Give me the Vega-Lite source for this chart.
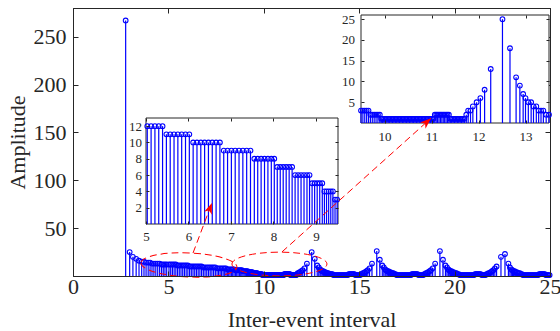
{
"$schema":"https://vega.github.io/schema/vega-lite/v6.json",
"width":477,"height":268,
"autosize":"none",
"padding":{"left":73,"top":8,"right":10,"bottom":55},
"background":"white",
"config":{
 "font":"Liberation Serif",
 "view":{"stroke":"#262626","strokeWidth":1},
 "axis":{"grid":false,"labelFlush":false,"labelOverlap":false,"labelFont":"Liberation Serif","titleFont":"Liberation Serif","titleFontWeight":"normal","domainColor":"#262626","tickColor":"#262626","labelColor":"#262626","titleColor":"#262626","tickWidth":1,"domainWidth":1}
},
"datasets":{"d":[
{"x":2.76,"y":267},{"x":2.97,"y":25},{"x":3.14,"y":20},{"x":3.31,"y":18},{"x":3.46,"y":16},{"x":3.6,"y":15},{"x":3.72,"y":15},{"x":3.83,"y":14},{"x":3.94,"y":14},{"x":4.04,"y":14},{"x":4.14,"y":13},{"x":4.24,"y":13},{"x":4.34,"y":13},{"x":4.44,"y":13},{"x":4.54,"y":13},{"x":4.64,"y":12},{"x":4.73,"y":12},{"x":4.82,"y":12},{"x":4.91,"y":12},
{"x":5.03,"y":12},{"x":5.12,"y":12},{"x":5.21,"y":12},{"x":5.3,"y":12},{"x":5.39,"y":12},
{"x":5.48,"y":11},{"x":5.57,"y":11},{"x":5.66,"y":11},{"x":5.75,"y":11},{"x":5.84,"y":11},{"x":5.93,"y":11},{"x":6.02,"y":11},
{"x":6.11,"y":10},{"x":6.2,"y":10},{"x":6.29,"y":10},{"x":6.38,"y":10},{"x":6.47,"y":10},{"x":6.56,"y":10},{"x":6.65,"y":10},{"x":6.74,"y":10},
{"x":6.83,"y":9},{"x":6.92,"y":9},{"x":7.01,"y":9},{"x":7.1,"y":9},{"x":7.19,"y":9},{"x":7.28,"y":9},{"x":7.37,"y":9},{"x":7.46,"y":9},
{"x":7.55,"y":8},{"x":7.63,"y":8},{"x":7.71,"y":8},{"x":7.79,"y":8},{"x":7.87,"y":8},{"x":7.95,"y":8},{"x":8.02,"y":8},
{"x":8.09,"y":7},{"x":8.16,"y":7},{"x":8.23,"y":7},{"x":8.3,"y":7},{"x":8.37,"y":7},{"x":8.44,"y":7},
{"x":8.51,"y":6},{"x":8.58,"y":6},{"x":8.65,"y":6},{"x":8.72,"y":6},{"x":8.79,"y":6},{"x":8.85,"y":6},
{"x":8.91,"y":5},{"x":8.97,"y":5},{"x":9.03,"y":5},{"x":9.09,"y":5},{"x":9.15,"y":5},
{"x":9.2,"y":4},{"x":9.25,"y":4},{"x":9.3,"y":4},{"x":9.35,"y":4},{"x":9.4,"y":4},
{"x":9.45,"y":3},{"x":9.5,"y":3},
{"x":9.54,"y":3},{"x":9.58,"y":3},{"x":9.62,"y":3},{"x":9.66,"y":3},
{"x":9.7,"y":2},{"x":9.74,"y":2},{"x":9.78,"y":2},{"x":9.82,"y":2},{"x":9.86,"y":2},{"x":9.9,"y":2},
{"x":9.93,"y":1},{"x":9.96,"y":1},{"x":9.99,"y":1},{"x":10.02,"y":1},{"x":10.05,"y":1},{"x":10.08,"y":1},{"x":10.11,"y":1},{"x":10.14,"y":1},{"x":10.17,"y":1},{"x":10.2,"y":1},{"x":10.23,"y":1},{"x":10.26,"y":1},{"x":10.29,"y":1},{"x":10.32,"y":1},{"x":10.35,"y":1},{"x":10.38,"y":1},{"x":10.41,"y":1},{"x":10.44,"y":1},{"x":10.47,"y":1},{"x":10.5,"y":1},{"x":10.53,"y":1},{"x":10.56,"y":1},{"x":10.59,"y":1},{"x":10.62,"y":1},{"x":10.65,"y":1},{"x":10.68,"y":1},{"x":10.71,"y":1},{"x":10.74,"y":1},{"x":10.77,"y":1},{"x":10.8,"y":1},{"x":10.83,"y":1},{"x":10.86,"y":1},{"x":10.89,"y":1},{"x":10.92,"y":1},{"x":10.95,"y":1},{"x":10.98,"y":1},{"x":11.01,"y":1},{"x":11.04,"y":1},
{"x":11.07,"y":2},{"x":11.1,"y":2},{"x":11.13,"y":2},{"x":11.16,"y":2},{"x":11.19,"y":2},{"x":11.22,"y":2},{"x":11.25,"y":2},{"x":11.28,"y":2},{"x":11.31,"y":2},{"x":11.34,"y":2},{"x":11.37,"y":2},
{"x":11.4,"y":1},{"x":11.43,"y":1},{"x":11.46,"y":1},{"x":11.49,"y":1},{"x":11.52,"y":1},{"x":11.55,"y":1},{"x":11.58,"y":1},{"x":11.61,"y":1},{"x":11.64,"y":1},{"x":11.67,"y":1},{"x":11.7,"y":1},
{"x":11.74,"y":2},{"x":11.78,"y":3},{"x":11.83,"y":3},{"x":11.88,"y":4},{"x":11.96,"y":5},{"x":12.04,"y":6},{"x":12.13,"y":8},{"x":12.26,"y":13},{"x":12.51,"y":25},{"x":12.67,"y":18},{"x":12.8,"y":11},{"x":12.88,"y":9},{"x":12.95,"y":7},{"x":13.0,"y":6},{"x":13.06,"y":5},{"x":13.12,"y":5},{"x":13.17,"y":4},{"x":13.23,"y":4},{"x":13.28,"y":3},{"x":13.33,"y":3},{"x":13.38,"y":3},{"x":13.44,"y":2},{"x":13.5,"y":2},
{"x":13.55,"y":2},{"x":13.6,"y":2},{"x":13.65,"y":1},{"x":13.7,"y":1},{"x":13.75,"y":1},{"x":13.8,"y":1},{"x":13.85,"y":1},{"x":13.9,"y":1},{"x":13.95,"y":1},{"x":14.0,"y":1},{"x":14.05,"y":1},{"x":14.1,"y":1},{"x":14.15,"y":1},{"x":14.2,"y":1},{"x":14.25,"y":1},{"x":14.3,"y":1},{"x":14.35,"y":1},{"x":14.4,"y":1},
{"x":14.45,"y":2},{"x":14.5,"y":2},{"x":14.55,"y":2},{"x":14.6,"y":2},{"x":14.65,"y":2},{"x":14.7,"y":2},{"x":14.75,"y":2},
{"x":14.8,"y":1},{"x":14.85,"y":1},{"x":14.9,"y":1},{"x":14.95,"y":1},{"x":15.0,"y":1},{"x":15.05,"y":1},
{"x":15.1,"y":2},{"x":15.15,"y":2},{"x":15.19,"y":3},{"x":15.25,"y":3},{"x":15.3,"y":4},{"x":15.38,"y":5},{"x":15.45,"y":6},{"x":15.54,"y":8},{"x":15.67,"y":13},{"x":15.92,"y":26},{"x":16.08,"y":17},{"x":16.21,"y":11},{"x":16.29,"y":9},{"x":16.36,"y":7},{"x":16.41,"y":6},{"x":16.47,"y":5},{"x":16.53,"y":5},{"x":16.58,"y":4},{"x":16.64,"y":4},{"x":16.69,"y":3},{"x":16.74,"y":3},{"x":16.79,"y":3},{"x":16.85,"y":2},{"x":16.91,"y":2},
{"x":16.96,"y":1},{"x":17.01,"y":1},{"x":17.06,"y":1},{"x":17.11,"y":1},{"x":17.16,"y":1},{"x":17.21,"y":1},{"x":17.26,"y":1},{"x":17.31,"y":1},{"x":17.36,"y":1},{"x":17.41,"y":1},{"x":17.46,"y":1},{"x":17.51,"y":1},{"x":17.56,"y":1},{"x":17.61,"y":1},{"x":17.66,"y":1},{"x":17.71,"y":1},
{"x":17.76,"y":2},{"x":17.81,"y":2},{"x":17.86,"y":2},{"x":17.91,"y":2},{"x":17.96,"y":2},{"x":18.01,"y":2},{"x":18.06,"y":2},
{"x":18.11,"y":1},{"x":18.16,"y":1},{"x":18.21,"y":1},{"x":18.26,"y":1},{"x":18.31,"y":1},{"x":18.36,"y":1},
{"x":18.41,"y":2},{"x":18.46,"y":2},{"x":18.5,"y":3},{"x":18.56,"y":3},{"x":18.61,"y":4},{"x":18.69,"y":5},{"x":18.76,"y":6},{"x":18.85,"y":8},{"x":18.98,"y":13},{"x":19.23,"y":26},{"x":19.39,"y":17},{"x":19.52,"y":11},{"x":19.6,"y":9},{"x":19.67,"y":7},{"x":19.72,"y":6},{"x":19.78,"y":5},{"x":19.84,"y":5},{"x":19.89,"y":4},{"x":19.95,"y":4},{"x":20.0,"y":3},{"x":20.05,"y":3},{"x":20.1,"y":3},{"x":20.16,"y":2},{"x":20.22,"y":2},
{"x":20.27,"y":1},{"x":20.32,"y":1},{"x":20.37,"y":1},{"x":20.42,"y":1},{"x":20.47,"y":1},{"x":20.52,"y":1},{"x":20.57,"y":1},{"x":20.62,"y":1},{"x":20.67,"y":1},{"x":20.72,"y":1},{"x":20.77,"y":1},{"x":20.82,"y":1},{"x":20.87,"y":1},{"x":20.92,"y":1},{"x":20.97,"y":1},{"x":21.02,"y":1},
{"x":21.07,"y":2},{"x":21.12,"y":2},{"x":21.17,"y":2},{"x":21.22,"y":2},{"x":21.27,"y":2},{"x":21.32,"y":2},{"x":21.37,"y":2},
{"x":21.42,"y":1},{"x":21.47,"y":1},{"x":21.52,"y":1},{"x":21.57,"y":1},{"x":21.62,"y":1},
{"x":21.67,"y":2},{"x":21.72,"y":2},{"x":21.77,"y":3},{"x":21.83,"y":3},{"x":21.89,"y":4},{"x":21.96,"y":5},{"x":22.03,"y":6},{"x":22.11,"y":8},{"x":22.2,"y":10},{"x":22.43,"y":20},{"x":22.64,"y":23},{"x":22.82,"y":13},{"x":22.9,"y":9},{"x":22.97,"y":7},{"x":23.03,"y":6},{"x":23.09,"y":5},{"x":23.15,"y":5},{"x":23.2,"y":4},{"x":23.26,"y":4},{"x":23.31,"y":3},{"x":23.36,"y":3},{"x":23.42,"y":3},{"x":23.47,"y":2},{"x":23.53,"y":2},
{"x":23.58,"y":1},{"x":23.63,"y":1},{"x":23.68,"y":1},{"x":23.73,"y":1},{"x":23.78,"y":1},{"x":23.83,"y":1},{"x":23.88,"y":1},{"x":23.93,"y":1},{"x":23.98,"y":1},{"x":24.03,"y":1},{"x":24.08,"y":1},{"x":24.13,"y":1},{"x":24.18,"y":1},{"x":24.23,"y":1},{"x":24.28,"y":1},{"x":24.33,"y":1},{"x":24.38,"y":1},
{"x":24.43,"y":2},{"x":24.48,"y":2},{"x":24.53,"y":2},{"x":24.58,"y":2},{"x":24.63,"y":2},{"x":24.68,"y":2},{"x":24.73,"y":2},
{"x":24.78,"y":1},{"x":24.83,"y":1},{"x":24.88,"y":1},{"x":24.93,"y":1},{"x":24.98,"y":1}
]},
"data":{"name":"d"},
"resolve":{"scale":{"x":"independent","y":"independent"}},
"layer":[
 {"layer":[
   {"mark":{"type":"rule","color":"#0000ff","strokeWidth":1.2},
    "encoding":{
      "x":{"field":"x","type":"quantitative","scale":{"domain":[0,25],"nice":false},"axis":{"orient":"bottom","values":[0,5,10,15,20,25],"title":"Inter-event interval","tickSize":-5,"labelPadding":5,"labelFontSize":22,"titleFontSize":22,"titleY":50.5,"titleBaseline":"alphabetic","zindex":1}},
      "y":{"field":"y","type":"quantitative","scale":{"domain":[0,280],"nice":false},"axis":{"orient":"left","values":[50,100,150,200,250],"title":"Amplitude","tickSize":-5,"labelPadding":12,"labelFontSize":22,"titleFontSize":22,"titleX":-49,"titleY":134,"titleBaseline":"alphabetic","zindex":0}},
      "y2":{"datum":0}}},
   {"mark":{"type":"point","shape":"circle","size":22,"filled":false,"color":"#0000ff","strokeWidth":1.1,"opacity":1},
    "encoding":{
      "x":{"field":"x","type":"quantitative","scale":{"domain":[0,25],"nice":false},"axis":{"orient":"top","values":[0,5,10,15,20,25],"labels":false,"title":null,"tickSize":-5,"zindex":1}},
      "y":{"field":"y","type":"quantitative","scale":{"domain":[0,280],"nice":false},"axis":{"orient":"right","values":[50,100,150,200,250],"labels":false,"title":null,"tickSize":-5,"zindex":0}}}}
 ]},
 {"layer":[
   {"data":{"values":[{}]},
    "mark":{"type":"rect","fill":"white","stroke":"#262626","strokeWidth":1},
    "encoding":{
      "x":{"datum":5,"type":"quantitative","scale":{"domain":[5,9.52],"range":[73,265],"nice":false},"axis":null},
      "x2":{"datum":9.52},
      "y":{"datum":0,"type":"quantitative","scale":{"domain":[0,13],"range":[216,110],"nice":false},"axis":null},
      "y2":{"datum":13}}},
   {"transform":[{"filter":"datum.x >= 5 && datum.x <= 9.52"}],
    "mark":{"type":"rule","color":"#0000ff","strokeWidth":1.2},
    "encoding":{
      "x":{"field":"x","type":"quantitative","scale":{"domain":[5,9.52],"range":[73,265],"nice":false},"axis":{"orient":"bottom","offset":-52,"values":[5,6,7,8,9],"title":null,"domain":false,"tickSize":-3,"labelPadding":9.5,"labelFontSize":13,"zindex":2}},
      "y":{"field":"y","type":"quantitative","scale":{"domain":[0,13],"range":[216,110],"nice":false},"axis":{"orient":"left","offset":-73,"values":[2,4,6,8,10,12],"title":null,"domain":false,"tickSize":-3,"labelPadding":7.5,"labelFontSize":13,"zindex":2}},
      "y2":{"datum":0}}},
   {"transform":[{"filter":"datum.x >= 5 && datum.x <= 9.52"}],
    "mark":{"type":"point","shape":"circle","size":22,"filled":false,"color":"#0000ff","strokeWidth":1.1,"opacity":1},
    "encoding":{
      "x":{"field":"x","type":"quantitative","scale":{"domain":[5,9.52],"range":[73,265],"nice":false},"axis":{"orient":"top","offset":-110,"values":[5,6,7,8,9],"labels":false,"title":null,"domain":false,"tickSize":-3,"zindex":2}},
      "y":{"field":"y","type":"quantitative","scale":{"domain":[0,13],"range":[216,110],"nice":false},"axis":{"orient":"right","offset":-212,"values":[2,4,6,8,10,12],"labels":false,"title":null,"domain":false,"tickSize":-3,"zindex":2}}}}
 ]},
 {"layer":[
   {"data":{"values":[{}]},
    "mark":{"type":"rect","fill":"white","stroke":"#262626","strokeWidth":1},
    "encoding":{
      "x":{"datum":9.5,"type":"quantitative","scale":{"domain":[9.5,13.5],"range":[288,476],"nice":false},"axis":null},
      "x2":{"datum":13.5},
      "y":{"datum":0,"type":"quantitative","scale":{"domain":[0,26],"range":[115,7],"nice":false},"axis":null},
      "y2":{"datum":26}}},
   {"transform":[{"filter":"datum.x >= 9.5 && datum.x <= 13.5"}],
    "mark":{"type":"rule","color":"#0000ff","strokeWidth":1.2},
    "encoding":{
      "x":{"field":"x","type":"quantitative","scale":{"domain":[9.5,13.5],"range":[288,476],"nice":false},"axis":{"orient":"bottom","offset":-153,"values":[10,11,12,13],"title":null,"domain":false,"tickSize":-3,"labelPadding":10,"labelFontSize":13,"zindex":2}},
      "y":{"field":"y","type":"quantitative","scale":{"domain":[0,26],"range":[115,7],"nice":false},"axis":{"orient":"left","offset":-288,"values":[5,10,15,20,25],"title":null,"domain":false,"tickSize":-3,"labelPadding":9.5,"labelFontSize":13,"zindex":2}},
      "y2":{"datum":0}}},
   {"transform":[{"filter":"datum.x >= 9.5 && datum.x <= 13.5"}],
    "mark":{"type":"point","shape":"circle","size":22,"filled":false,"color":"#0000ff","strokeWidth":1.1,"opacity":1},
    "encoding":{
      "x":{"field":"x","type":"quantitative","scale":{"domain":[9.5,13.5],"range":[288,476],"nice":false},"axis":{"orient":"top","offset":-7,"values":[10,11,12,13],"labels":false,"title":null,"domain":false,"tickSize":-3,"zindex":2}},
      "y":{"field":"y","type":"quantitative","scale":{"domain":[0,26],"range":[115,7],"nice":false},"axis":{"orient":"right","offset":-1,"values":[5,10,15,20,25],"labels":false,"title":null,"domain":false,"tickSize":-3,"zindex":2}}}}
 ]},
 {"data":{"values":[{}]},
  "layer":[
   {"mark":{"type":"point","shape":"M -1 0 A 1 0.25 0 1 0 1 0 A 1 0.25 0 1 0 -1 0 Z","size":9216,"filled":false,"color":"#ff0000","strokeWidth":1,"strokeDash":[7,4],"angle":2.5,"opacity":1},
    "encoding":{"x":{"datum":6.08,"type":"quantitative","scale":{"domain":[0,25],"nice":false},"axis":null},"y":{"datum":11.5,"type":"quantitative","scale":{"domain":[0,280],"nice":false},"axis":null}}},
   {"mark":{"type":"point","shape":"M -1 0 A 1 0.25 0 1 0 1 0 A 1 0.25 0 1 0 -1 0 Z","size":9025,"filled":false,"color":"#ff0000","strokeWidth":1,"strokeDash":[7,4],"angle":0,"opacity":1},
    "encoding":{"x":{"datum":10.82,"type":"quantitative","scale":{"domain":[0,25],"nice":false},"axis":null},"y":{"datum":12.5,"type":"quantitative","scale":{"domain":[0,280],"nice":false},"axis":null}}},
   {"mark":{"type":"rule","color":"#ff0000","strokeWidth":1,"strokeDash":[7,4]},
    "encoding":{"x":{"datum":6.29,"type":"quantitative","scale":{"domain":[0,25],"nice":false},"axis":null},"y":{"datum":24,"type":"quantitative","scale":{"domain":[0,280],"nice":false},"axis":null},"x2":{"datum":7.28},"y2":{"datum":76.3}}},
   {"mark":{"type":"rule","color":"#ff0000","strokeWidth":1,"strokeDash":[7,4]},
    "encoding":{"x":{"datum":10.95,"type":"quantitative","scale":{"domain":[0,25],"nice":false},"axis":null},"y":{"datum":25.1,"type":"quantitative","scale":{"domain":[0,280],"nice":false},"axis":null},"x2":{"datum":18.76},"y2":{"datum":164.8}}},
   {"mark":{"type":"point","shape":"M 0 0 L 0.6 1.6 L 0 1.15 L -0.6 1.6 Z","size":189,"filled":true,"color":"#ff0000","strokeWidth":0,"angle":21,"opacity":1},
    "encoding":{"x":{"datum":7.28,"type":"quantitative","scale":{"domain":[0,25],"nice":false},"axis":null},"y":{"datum":76.3,"type":"quantitative","scale":{"domain":[0,280],"nice":false},"axis":null}}},
   {"mark":{"type":"point","shape":"M 0 0 L 0.6 1.6 L 0 1.15 L -0.6 1.6 Z","size":189,"filled":true,"color":"#ff0000","strokeWidth":0,"angle":48,"opacity":1},
    "encoding":{"x":{"datum":18.76,"type":"quantitative","scale":{"domain":[0,25],"nice":false},"axis":null},"y":{"datum":164.8,"type":"quantitative","scale":{"domain":[0,280],"nice":false},"axis":null}}}
  ]}
]
}
